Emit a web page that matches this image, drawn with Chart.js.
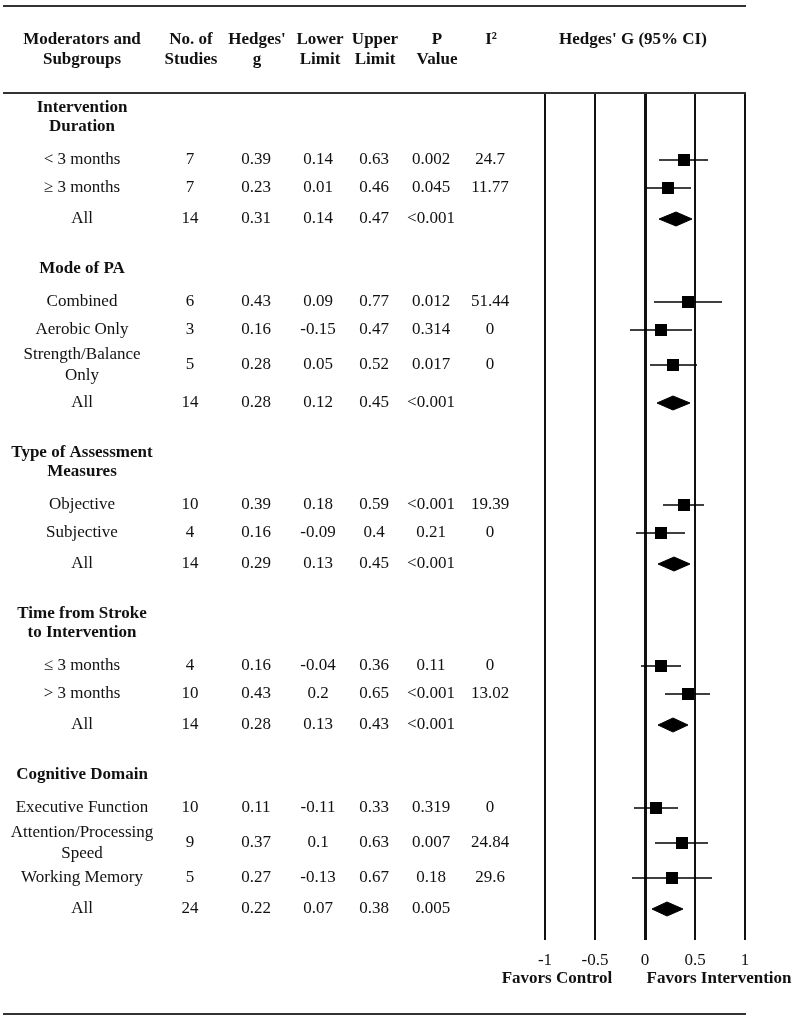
<!DOCTYPE html>
<html>
<head>
<meta charset="utf-8">
<script src="https://cdn.jsdelivr.net/npm/chart.js@4"></script>
<style>
  html, body { margin: 0; padding: 0; background: #fff; }
  #wrap { position: relative; width: 800px; height: 1021px; }
</style>
</head>
<body>
<div id="wrap"><canvas id="forestChart"></canvas></div>
<script>
// moderators (groups) and the subgroup rows under each of them
var groupNames = ['Intervention\nDuration', 'Mode of PA', 'Type of Assessment\nMeasures', 'Time from Stroke\nto Intervention', 'Cognitive Domain'];
var rowGroup = [0, 0, 0, 1, 1, 1, 1, 2, 2, 2, 3, 3, 3, 4, 4, 4, 4];
var rowLabels = ['< 3 months', '\u2265 3 months', 'All',
    'Combined', 'Aerobic Only', 'Strength/Balance\nOnly', 'All',
    'Objective', 'Subjective', 'All',
    '\u2264 3 months', '> 3 months', 'All',
    'Executive Function', 'Attention/Processing\nSpeed', 'Working Memory', 'All'];
var studies = [7, 7, 14, 6, 3, 5, 14, 10, 4, 14, 4, 10, 14, 10, 9, 5, 24];
var hedgesG = [0.39, 0.23, 0.31, 0.43, 0.16, 0.28, 0.28, 0.39, 0.16, 0.29, 0.16, 0.43, 0.28, 0.11, 0.37, 0.27, 0.22];
var lowerLimit = [0.14, 0.01, 0.14, 0.09, -0.15, 0.05, 0.12, 0.18, -0.09, 0.13, -0.04, 0.2, 0.13, -0.11, 0.1, -0.13, 0.07];
var upperLimit = [0.63, 0.46, 0.47, 0.77, 0.47, 0.52, 0.45, 0.59, 0.4, 0.45, 0.36, 0.65, 0.43, 0.33, 0.63, 0.67, 0.38];
var pValues = ['0.002', '0.045', '<0.001', '0.012', '0.314', '0.017', '<0.001', '<0.001', '0.21', '<0.001', '0.11', '<0.001', '<0.001', '0.319', '0.007', '0.18', '0.005'];
var iSquared = ['24.7', '11.77', '', '51.44', '0', '0', '', '19.39', '0', '', '0', '13.02', '', '0', '24.84', '29.6', ''];
var xTicks = [-1, -0.5, 0, 0.5, 1];

var SERIF = "'Liberation Serif', 'Times New Roman', serif";
var PLOT_H = 847;

// vertical layout of the rows (plot units = pixels inside the plot area)
var rowY = [], groupY = [];
(function () {
    var y = 15, prevDouble = false;
    rowLabels.forEach(function (label, i) {
        var g = rowGroup[i];
        var dbl = label.indexOf('\n') >= 0;
        if (i === 0 || rowGroup[i - 1] !== g) {
            if (i > 0) y += 50;
            var n = groupNames[g].split('\n').length;
            groupY[g] = y + (n - 1) * 19 / 2;
            y += (n - 1) * 19 + 33;
        } else {
            y += 28;
            if (label === 'All') y += 3;
            if (dbl || prevDouble) y += 7;
        }
        rowY.push(y);
        prevDouble = dbl;
    });
})();

var datasets = [];
var squares = [];
rowLabels.forEach(function (label, i) {
    if (label !== 'All') squares.push({ x: hedgesG[i], y: rowY[i] });
});
datasets.push({
    data: squares,
    showLine: false,
    pointStyle: 'rect',
    pointRadius: 8.5,
    pointBackgroundColor: '#000',
    pointBorderWidth: 0
});
rowLabels.forEach(function (label, i) {
    if (label === 'All') {
        datasets.push({
            data: [
                { x: lowerLimit[i], y: rowY[i] },
                { x: hedgesG[i], y: rowY[i] - 7 },
                { x: upperLimit[i], y: rowY[i] },
                { x: hedgesG[i], y: rowY[i] + 7 },
                { x: lowerLimit[i], y: rowY[i] }
            ],
            fill: 'shape',
            backgroundColor: '#000',
            borderColor: '#000',
            borderWidth: 1,
            pointRadius: 0,
            tension: 0
        });
    } else {
        datasets.push({
            data: [{ x: lowerLimit[i], y: rowY[i] }, { x: upperLimit[i], y: rowY[i] }],
            borderColor: '#000',
            borderWidth: 1.6,
            pointRadius: 0,
            fill: false
        });
    }
});

function drawLines(ctx, text, x, yc, lh) {
    var lines = text.split('\n');
    var y0 = yc - (lines.length - 1) * lh / 2;
    lines.forEach(function (t, k) { ctx.fillText(t, x, y0 + k * lh); });
}

var tablePlugin = {
    id: 'tableText',
    afterDraw: function (chart) {
        var ctx = chart.ctx;
        var ys = chart.scales.y;
        ctx.save();
        ctx.fillStyle = '#111';
        ctx.textAlign = 'center';
        ctx.textBaseline = 'middle';

        // rules
        ctx.strokeStyle = '#333';
        ctx.lineWidth = 2;
        [6, chart.chartArea.top, 1014].forEach(function (ry) {
            ctx.beginPath();
            ctx.moveTo(3, ry);
            ctx.lineTo(746, ry);
            ctx.stroke();
        });

        // header
        ctx.font = 'bold 17px ' + SERIF;
        drawLines(ctx, 'Moderators and\nSubgroups', 82, 50, 20);
        drawLines(ctx, 'No. of\nStudies', 191, 50, 20);
        drawLines(ctx, "Hedges'\ng", 257, 50, 20);
        drawLines(ctx, 'Lower\nLimit', 320, 50, 20);
        drawLines(ctx, 'Upper\nLimit', 375, 50, 20);
        drawLines(ctx, 'P\nValue', 437, 50, 20);
        ctx.fillText('I\u00b2', 491, 40);
        ctx.fillText("Hedges' G (95% CI)", 633, 40);

        // group titles
        groupNames.forEach(function (name, g) {
            drawLines(ctx, name, 82, ys.getPixelForValue(groupY[g]), 19);
        });

        // rows
        ctx.font = '17px ' + SERIF;
        rowLabels.forEach(function (label, i) {
            var py = ys.getPixelForValue(rowY[i]);
            drawLines(ctx, label, 82, py, 21);
            ctx.fillText(String(studies[i]), 190, py);
            ctx.fillText(String(hedgesG[i]), 256, py);
            ctx.fillText(String(lowerLimit[i]), 318, py);
            ctx.fillText(String(upperLimit[i]), 374, py);
            ctx.fillText(pValues[i], 431, py);
            ctx.fillText(iSquared[i], 490, py);
        });

        // favors labels
        ctx.font = 'bold 17px ' + SERIF;
        ctx.fillText('Favors Control', 557, 979);
        ctx.fillText('Favors Intervention', 719, 979);
        ctx.restore();
    }
};

new Chart(document.getElementById('forestChart'), {
    type: 'line',
    data: { datasets: datasets },
    options: {
        responsive: true,
        maintainAspectRatio: false,
        animation: false,
        layout: { padding: { left: 545, right: 55, top: 93, bottom: 41 } },
        plugins: {
            legend: { display: false },
            tooltip: { enabled: false }
        },
        scales: {
            x: {
                type: 'linear',
                min: -1,
                max: 1,
                afterBuildTicks: function (axis) {
                    axis.ticks = xTicks.map(function (v) { return { value: v }; });
                },
                afterFit: function (axis) { axis.height = 40; },
                border: { display: false },
                grid: {
                    color: '#111',
                    lineWidth: function (c) { return c.tick && c.tick.value === 0 ? 3 : 2; },
                    drawTicks: false
                },
                ticks: {
                    padding: 10,
                    color: '#111',
                    font: { family: SERIF, size: 17 },
                    callback: function (v) { return String(v); }
                }
            },
            y: {
                type: 'linear',
                display: false,
                reverse: true,
                min: 0,
                max: PLOT_H
            }
        }
    },
    plugins: [tablePlugin]
});
</script>
</body>
</html>
